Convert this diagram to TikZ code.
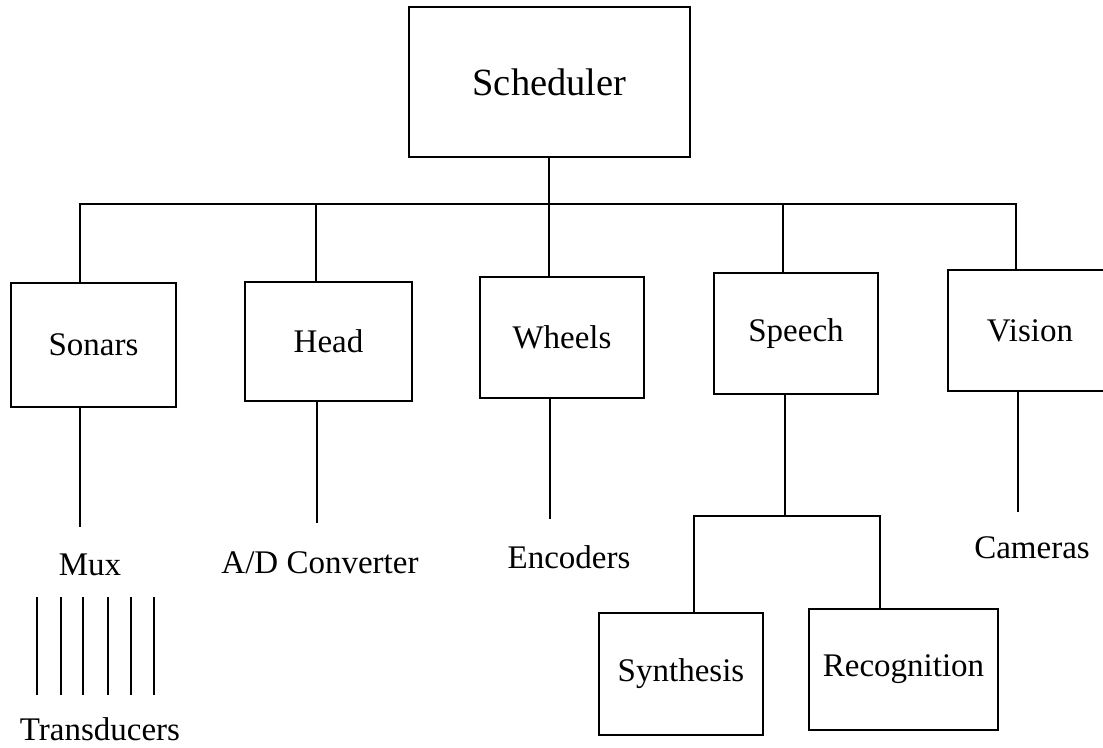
\documentclass[tikz,border=0pt]{standalone}
\usepackage{fontspec}
\setmainfont{Liberation Serif}
\begin{document}
\begin{tikzpicture}[x=1pt,y=-1pt,
  box/.style={draw, line width=2.4pt, rectangle, inner sep=0pt, font=\fontsize{33}{40}\selectfont},
  lbl/.style={inner sep=0pt, font=\fontsize{33}{40}\selectfont},
  conn/.style={line width=2.4pt}]
\clip (0,0) rectangle (1103,747);
% boxes
\node[box, minimum width=281pt, minimum height=150pt, font=\fontsize{38.5}{44}\selectfont] (sched) at (549.5,82) {Scheduler};
\node[box, minimum width=165pt, minimum height=124pt] (sonars) at (93.5,345) {Sonars};
\node[box, minimum width=167pt, minimum height=119pt] (head) at (328.5,341.5) {Head};
\node[box, minimum width=164pt, minimum height=121pt] (wheels) at (562,337.5) {Wheels};
\node[box, minimum width=164pt, minimum height=121pt] (speech) at (796,333.5) {Speech};
\node[box, minimum width=164pt, minimum height=121pt] (vision) at (1030,330.5) {Vision};
\node[box, minimum width=164pt, minimum height=122pt] (synth) at (681,674) {Synthesis};
\node[box, minimum width=189pt, minimum height=121pt] (recog) at (903.5,669.5) {Recognition};
% labels
\node[lbl] (mux) at (90,565) {Mux};
\node[lbl] (adc) at (320,563) {A/D Converter};
\node[lbl] (enc) at (569,557) {Encoders};
\node[lbl] (cam) at (1032,548) {Cameras};
\node[lbl] (trans) at (100,729) {Transducers};
% upper tree
\coordinate (jSon) at (80,204);
\coordinate (jHead) at (316,204);
\coordinate (jWhl) at (549,204);
\coordinate (jSp) at (783,204);
\coordinate (jVis) at (1016,204);
\draw[conn] (jSon |- sonars.north) -- (jSon) -- (jVis) -- (jVis |- vision.north);
\draw[conn] (jHead) -- (jHead |- head.north);
\draw[conn] (sched.south -| jWhl) -- (jWhl |- wheels.north);
\draw[conn] (jSp) -- (jSp |- speech.north);
% lower drops
\coordinate (eSon) at (80,527);
\coordinate (eHead) at (317,523);
\coordinate (eWhl) at (550,519);
\coordinate (eVis) at (1018,512);
\draw[conn] (sonars.south -| eSon) -- (eSon);
\draw[conn] (head.south -| eHead) -- (eHead);
\draw[conn] (wheels.south -| eWhl) -- (eWhl);
\draw[conn] (vision.south -| eVis) -- (eVis);
% speech subtree
\coordinate (sub) at (785,516);
\coordinate (jSyn) at (694,516);
\coordinate (jRec) at (880,516);
\draw[conn] (speech.south -| sub) -- (sub);
\draw[conn] (jSyn |- synth.north) -- (jSyn) -- (jRec) -- (jRec |- recog.north);
% transducer lines
\foreach \xx in {37,61,83,108,131,154} {
  \draw[conn] (\xx,597) -- (\xx,695);
}
\end{tikzpicture}
\end{document}
